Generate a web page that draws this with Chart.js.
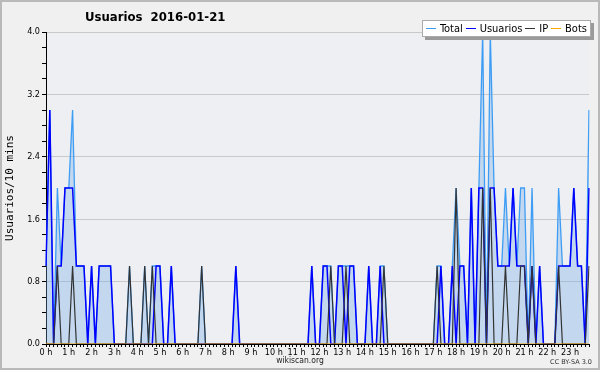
<!DOCTYPE html>
<html>
<head>
<meta charset="UTF-8">
<title>Usuarios 2016-01-21</title>
<script src="https://cdn.jsdelivr.net/npm/chart.js@4.4.1/dist/chart.umd.min.js"></script>
<style>
  body { margin: 0; background: #f0f0f0; }
  #wrap { position: relative; width: 600px; height: 370px; overflow: hidden; background: #f0f0f0; }
  #wrap canvas { position: absolute; left: 0; top: 0; }
  .marco { position: absolute; left: 0; top: 0; width: 600px; height: 370px; box-sizing: border-box;
           border: 2px solid #b9b9b9; pointer-events: none; }
  .titulo { position: absolute; left: 85px; top: 9px; font: bold 13px "DejaVu Sans Condensed", "DejaVu Sans", sans-serif;
            color: #000; white-space: pre; }
  .leyenda { position: absolute; left: 422px; top: 20px; width: 169px; height: 17px; box-sizing: border-box;
             background: #fff; border: 1px solid #aaa; box-shadow: 3px 3px 0 #9a9a9a;
             font: 11px "DejaVu Sans Condensed", "DejaVu Sans", sans-serif; color: #000;
             display: flex; align-items: center; padding-left: 3px; white-space: nowrap; }
  .leyenda i { display: inline-block; width: 12px; height: 0; border-top: 1px solid; margin: 0 4px 0 0; }
  .leyenda span { margin-right: 3px; }
  .pie { position: absolute; left: 0; width: 600px; top: 355px; text-align: center;
         font: 8.5px "DejaVu Sans Condensed", "DejaVu Sans", sans-serif; color: #222; }
  .licencia { position: absolute; right: 8px; top: 358px; font: 6.5px "DejaVu Sans", sans-serif; color: #333; }
</style>
</head>
<body>
<div id="wrap">
  <canvas id="grafica" width="600" height="370"></canvas>
  <div class="titulo">Usuarios  2016-01-21</div>
  <div class="leyenda">
    <i style="color:#3d9df5"></i><span>Total</span>
    <i style="color:#0000ff"></i><span>Usuarios</span>
    <i style="color:#333"></i><span>IP</span>
    <i style="color:#ffa500"></i><span>Bots</span>
  </div>
  <div class="pie">wikiscan.org</div>
  <div class="licencia">CC BY-SA 3.0</div>
  <div class="marco"></div>
</div>

<script>
    // etiquetas de hora (una cada 6 intervalos de 10 minutos)
    const horas = ['0 h', '1 h', '2 h', '3 h', '4 h', '5 h', '6 h', '7 h', '8 h', '9 h', '10 h', '11 h',
                   '12 h', '13 h', '14 h', '15 h', '16 h', '17 h', '18 h', '19 h', '20 h', '21 h', '22 h', '23 h'];
    const ticksY = [0.0, 0.8, 1.6, 2.4, 3.2, 4.0];

    // valores por intervalo de 10 minutos (12 por fila = 2 horas)
    const total = [
        1, 3, 0, 2, 1, 2, 2, 3, 1, 1, 1, 0,
        1, 0, 1, 1, 1, 1, 0, 0, 0, 0, 1, 0,
        0, 0, 1, 0, 1, 1, 1, 0, 0, 1, 0, 0,
        0, 0, 0, 0, 0, 1, 0, 0, 0, 0, 0, 0,
        0, 0, 1, 0, 0, 0, 0, 0, 0, 0, 0, 0,
        0, 0, 0, 0, 0, 0, 0, 0, 0, 0, 1, 0,
        0, 1, 1, 1, 0, 1, 1, 1, 1, 1, 0, 0,
        0, 1, 0, 0, 1, 1, 0, 0, 0, 0, 0, 0,
        0, 0, 0, 0, 0, 0, 0, 1, 1, 0, 0, 1,
        2, 1, 1, 0, 2, 0, 2, 4, 0, 4, 2, 1,
        1, 2, 1, 2, 1, 2, 2, 0, 2, 0, 1, 0,
        0, 0, 0, 2, 1, 1, 1, 2, 1, 1, 0, 3
    ];
    const usuarios = [
        1, 3, 0, 1, 1, 2, 2, 2, 1, 1, 1, 0,
        1, 0, 1, 1, 1, 1, 0, 0, 0, 0, 0, 0,
        0, 0, 0, 0, 0, 1, 1, 0, 0, 1, 0, 0,
        0, 0, 0, 0, 0, 0, 0, 0, 0, 0, 0, 0,
        0, 0, 1, 0, 0, 0, 0, 0, 0, 0, 0, 0,
        0, 0, 0, 0, 0, 0, 0, 0, 0, 0, 1, 0,
        0, 1, 1, 0, 0, 1, 1, 0, 1, 1, 0, 0,
        0, 1, 0, 0, 1, 0, 0, 0, 0, 0, 0, 0,
        0, 0, 0, 0, 0, 0, 0, 0, 1, 0, 0, 1,
        0, 1, 1, 0, 2, 0, 2, 2, 0, 2, 2, 1,
        1, 1, 1, 2, 1, 1, 1, 0, 1, 0, 1, 0,
        0, 0, 0, 1, 1, 1, 1, 2, 1, 1, 0, 2
    ];
    const ip = [
        0, 0, 0, 1, 0, 0, 0, 1, 0, 0, 0, 0,
        0, 0, 0, 0, 0, 0, 0, 0, 0, 0, 1, 0,
        0, 0, 1, 0, 1, 0, 0, 0, 0, 0, 0, 0,
        0, 0, 0, 0, 0, 1, 0, 0, 0, 0, 0, 0,
        0, 0, 0, 0, 0, 0, 0, 0, 0, 0, 0, 0,
        0, 0, 0, 0, 0, 0, 0, 0, 0, 0, 0, 0,
        0, 0, 0, 1, 0, 0, 0, 1, 0, 0, 0, 0,
        0, 0, 0, 0, 0, 1, 0, 0, 0, 0, 0, 0,
        0, 0, 0, 0, 0, 0, 0, 1, 0, 0, 0, 0,
        2, 0, 0, 0, 0, 0, 0, 2, 0, 2, 0, 0,
        0, 1, 0, 0, 0, 1, 1, 0, 1, 0, 0, 0,
        0, 0, 0, 1, 0, 0, 0, 0, 0, 0, 0, 1
    ];
    const bots = [
        0, 0, 0, 0, 0, 0, 0, 0, 0, 0, 0, 0,
        0, 0, 0, 0, 0, 0, 0, 0, 0, 0, 0, 0,
        0, 0, 0, 0, 0, 0, 0, 0, 0, 0, 0, 0,
        0, 0, 0, 0, 0, 0, 0, 0, 0, 0, 0, 0,
        0, 0, 0, 0, 0, 0, 0, 0, 0, 0, 0, 0,
        0, 0, 0, 0, 0, 0, 0, 0, 0, 0, 0, 0,
        0, 0, 0, 0, 0, 0, 0, 0, 0, 0, 0, 0,
        0, 0, 0, 0, 0, 0, 0, 0, 0, 0, 0, 0,
        0, 0, 0, 0, 0, 0, 0, 0, 0, 0, 0, 0,
        0, 0, 0, 0, 0, 0, 0, 0, 0, 0, 0, 0,
        0, 0, 0, 0, 0, 0, 0, 0, 0, 0, 0, 0,
        0, 0, 0, 0, 0, 0, 0, 0, 0, 0, 0, 0
    ];

    // una etiqueta por intervalo, solo las horas llevan texto
    const intervalos = horas.flatMap(h => [h, '', '', '', '', '']);

    const fuente = 'DejaVu Sans Condensed, DejaVu Sans, sans-serif';
    const esMayor = v => ticksY.some(t => Math.abs(t - v) < 1e-6);

    const fondoArea = {
        id: 'fondoArea',
        beforeDraw(chart) {
            const a = chart.chartArea;
            chart.ctx.save();
            chart.ctx.fillStyle = '#eeeff2';
            chart.ctx.fillRect(a.left, a.top, a.right - a.left, a.bottom - a.top);
            chart.ctx.restore();
        }
    };

    const ctx = document.getElementById('grafica').getContext('2d');

    new Chart(ctx, {
        type: 'line',
        data: {
            labels: intervalos,
            datasets: [
                { label: 'Total', data: total, borderColor: '#3d9df5', backgroundColor: 'rgba(110, 170, 230, 0.33)',
                  fill: 'origin', borderWidth: 1.3, order: 4 },
                { label: 'Usuarios', data: usuarios, borderColor: '#0000ff', borderWidth: 1.5, fill: false, order: 3 },
                { label: 'IP', data: ip, borderColor: '#333333', borderWidth: 1.2, fill: false, order: 2 },
                { label: 'Bots', data: bots, borderColor: '#ffa500', borderWidth: 1, fill: false, order: 1 }
            ]
        },
        options: {
            responsive: false,
            animation: false,
            layout: { padding: { top: 32, right: 11, left: 0, bottom: 0 } },
            elements: { point: { radius: 0 }, line: { tension: 0 } },
            plugins: {
                legend: { display: false },
                title: { display: false },
                tooltip: { enabled: false }
            },
            scales: {
                x: {
                    type: 'category',
                    z: 1,
                    border: { color: '#000', width: 1 },
                    grid: { drawOnChartArea: false, tickColor: '#000', tickLength: 3 },
                    ticks: { autoSkip: false, maxRotation: 0, minRotation: 0, padding: 0,
                             color: '#000', font: { family: fuente, size: 9 } },
                    afterFit: s => { s.height = 26; }
                },
                y: {
                    min: 0,
                    max: 4,
                    border: { color: '#000', width: 1 },
                    grid: {
                        color: c => (c.tick && esMayor(c.tick.value)) ? '#c9c9c9' : 'rgba(0,0,0,0)',
                        tickColor: '#000',
                        tickLength: 4
                    },
                    ticks: {
                        stepSize: 0.2,
                        autoSkip: false,
                        maxTicksLimit: 30,
                        padding: 2,
                        color: '#000',
                        font: { family: fuente, size: 9 },
                        callback: v => esMayor(v) ? v.toFixed(1) : ''
                    },
                    title: {
                        display: true,
                        text: 'Usuarios/10 mins',
                        color: '#000',
                        font: { family: 'DejaVu Sans Mono', size: 11 },
                        padding: { top: 4, bottom: 0 }
                    },
                    afterFit: s => { s.width = 46; }
                }
            }
        },
        plugins: [fondoArea]
    });
</script>
</body>
</html>
